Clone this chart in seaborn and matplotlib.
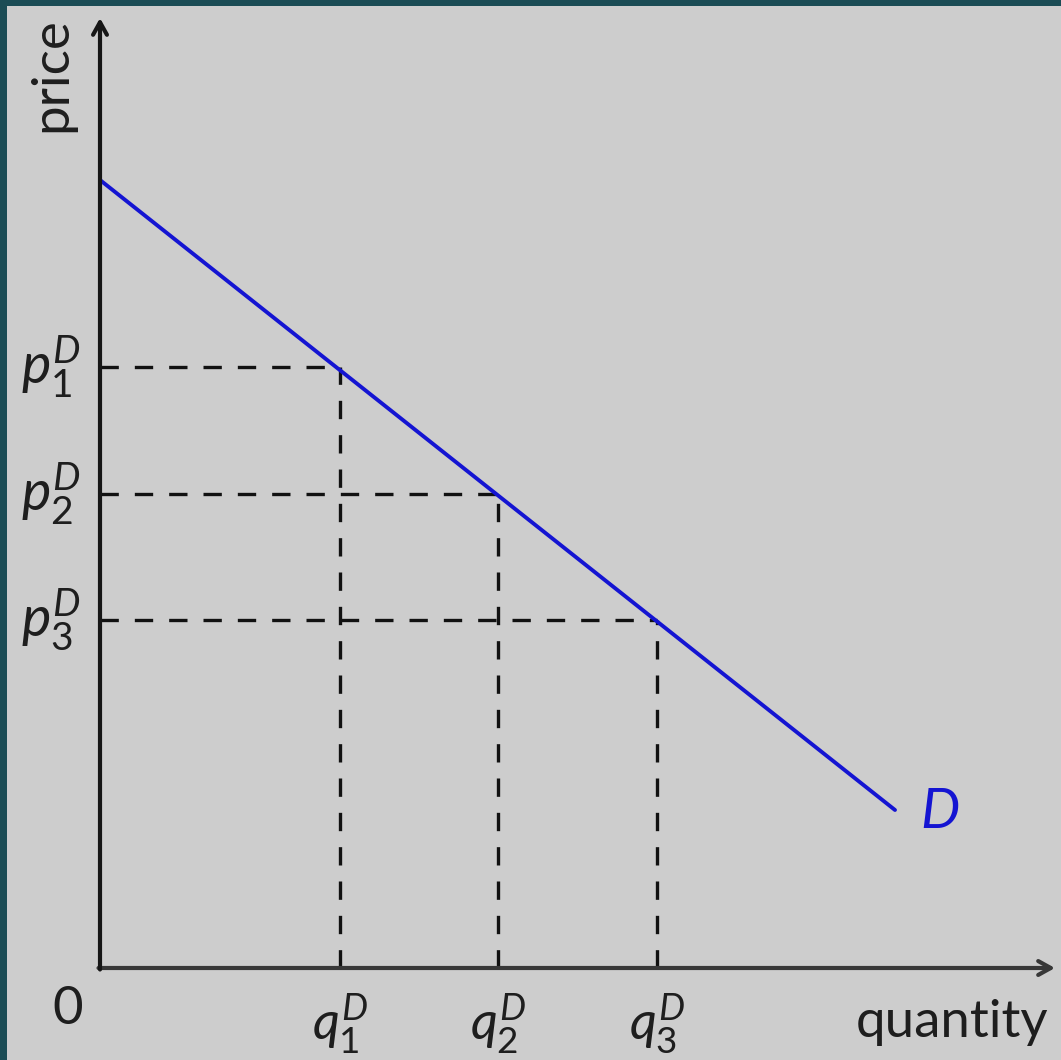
import matplotlib
matplotlib.use("Agg")
import matplotlib.pyplot as plt
import seaborn as sns

# ---------------------------------------------------------------------------
# Chart data (units: quantity / price, origin at 0)
# ---------------------------------------------------------------------------
demand_q = [0.0, 7.95]
demand_p = [7.88, 1.58]

q_levels = [2.40, 3.98, 5.57]
p_levels = [6.01, 4.74, 3.48]
q_labels = [r"$q_1^D$", r"$q_2^D$", r"$q_3^D$"]
p_labels = [r"$p_1^D$", r"$p_2^D$", r"$p_3^D$"]

x_axis_end = 9.55
y_axis_end = 9.50

BG = "#cdcdcd"
FRAME = "#1b4c55"
BLUE = "#1414d2"
INK = "#1e1e1e"

sns.set_theme(style="white")
plt.rcParams["font.family"] = ["Lato", "DejaVu Sans"]
plt.rcParams["mathtext.fontset"] = "custom"
plt.rcParams["mathtext.it"] = "Lato:italic"
plt.rcParams["mathtext.rm"] = "Lato"

fig = plt.figure(figsize=(10.61, 10.60), dpi=100, facecolor=FRAME)
ax = fig.add_axes([7 / 1061, 0, 1054 / 1061, 1054 / 1060])
ax.set_facecolor(BG)
ax.set_xlim(-0.93, 9.61)
ax.set_ylim(-0.92, 9.62)
ax.set_axis_off()
ax.add_patch(plt.Rectangle((0, 0), 1, 1, transform=ax.transAxes,
                           facecolor=BG, edgecolor="none", zorder=0))

# dashed guide lines
dash = (0, (5.5, 4.8))
for q, p in zip(q_levels, p_levels):
    ax.plot([0, q], [p, p], color="#111111", lw=2.4, linestyle=dash, zorder=2)
    ax.plot([q, q], [0, p], color="#111111", lw=2.4, linestyle=dash, zorder=2)

# demand curve
sns.lineplot(x=demand_q, y=demand_p, ax=ax, color=BLUE, lw=2.8, zorder=3)
ax.text(8.40, 1.56, "D", color=BLUE, fontsize=40, style="italic",
        ha="center", va="center")

# axes with arrow heads
head = "->,head_length=0.45,head_width=0.25"
ax.annotate("", xy=(x_axis_end, 0), xytext=(-0.015, 0),
            arrowprops=dict(arrowstyle=head, color="#383838", lw=3,
                            mutation_scale=20, shrinkA=0, shrinkB=0), zorder=4)
ax.annotate("", xy=(0, y_axis_end), xytext=(0, -0.015),
            arrowprops=dict(arrowstyle=head, color="#161616", lw=3,
                            mutation_scale=20, shrinkA=0, shrinkB=0), zorder=4)

# labels
for q, lab in zip(q_levels, q_labels):
    ax.text(q, -0.56, lab, fontsize=38, ha="center", va="center", color=INK)
for p, lab in zip(p_levels, p_labels):
    ax.text(-0.19, p, lab, fontsize=40, ha="right", va="center", color=INK)

ax.text(-0.32, -0.42, "0", fontsize=38, ha="center", va="center", color=INK)
ax.text(8.52, -0.55, "quantity", fontsize=38, ha="center", va="center", color=INK)
ax.text(-0.48, 8.93, "price", fontsize=38, rotation=90, ha="center", va="center",
        color=INK)

fig.savefig("out.png", dpi=100, facecolor=FRAME)
